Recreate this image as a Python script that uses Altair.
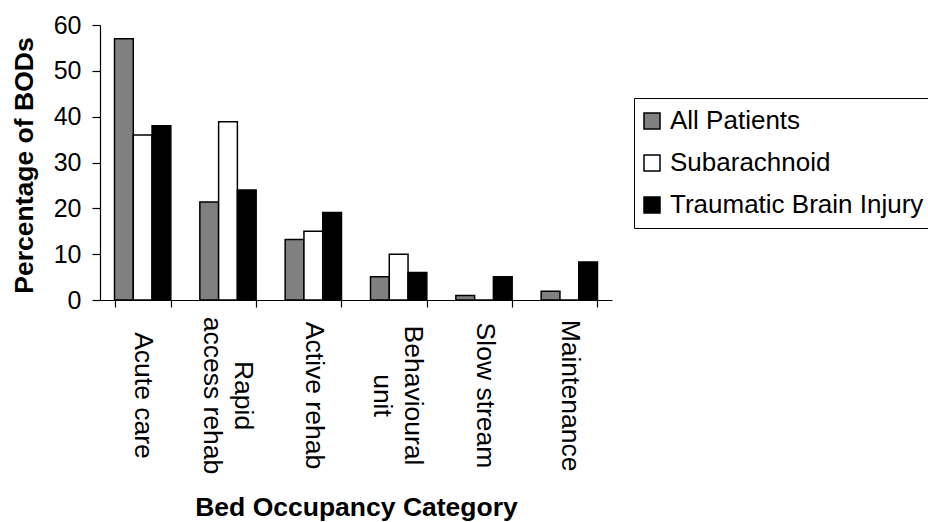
import altair as alt
import pandas as pd

categories = ["Acute care", "Rapid access rehab", "Active rehab",
              "Behavioural unit", "Slow stream", "Maintenance"]
label_lines = [["Acute care"], ["Rapid", "access rehab"], ["Active rehab"],
               ["Behavioural", "unit"], ["Slow stream"], ["Maintenance"]]
series = ["All Patients", "Subarachnoid", "Traumatic Brain Injury"]
all_patients = [57, 21.4, 13.2, 5.1, 1.0, 1.9]
subarachnoid = [36, 38.9, 15, 10, 0, 0]
tbi = [38, 24, 19.1, 6, 5.1, 8.3]
colors = ["#808080", "#ffffff", "#000000"]

rows = []
for s, vals in zip(series, [all_patients, subarachnoid, tbi]):
    for c, v in zip(categories, vals):
        rows.append({"category": c, "series": s, "value": v})
df = pd.DataFrame(rows)

# multi-line label expression
expr = "datum.label"
for c, lines in reversed(list(zip(categories, label_lines))):
    arr = "[" + ",".join("'" + l + "'" for l in lines) + "]"
    expr = f"datum.label == '{c}' ? {arr} : ({expr})"

multi = [c for c, lines in zip(categories, label_lines) if len(lines) > 1]
multi_test = " || ".join(f"datum.label == '{c}'" for c in multi)

FONT = "Liberation Sans"

chart = alt.Chart(df).mark_bar(stroke="black", strokeWidth=1.5).encode(
    x=alt.X("category:N", sort=categories,
            scale=alt.Scale(paddingInner=0.34, paddingOuter=0.17),
            axis=alt.Axis(title="Bed Occupancy Category", labelAngle=90,
                          labelAlign="center", labelBaseline="middle",
                          labelPadding=88, labelExpr=expr, labelFontSize=26.5,
                          labelLineHeight=31,
                          labelOffset={"condition": {"test": multi_test, "value": 14},
                                       "value": 0},
                          labelOverlap=False, labelBound=False, labelFlush=False,
                          labelLimit=0,
                          tickBand="extent", tickSize=7, tickColor="black",
                          tickWidth=1.2, domainColor="black", domainWidth=1.2,
                          titleFontSize=26.5, titleFontWeight="bold",
                          titleX=256, titleY=215, titleBaseline="alphabetic",
                          titleAlign="center", labelColor="black",
                          titleColor="black")),
    xOffset=alt.XOffset("series:N", sort=series,
                        scale=alt.Scale(paddingInner=0, paddingOuter=0)),
    y=alt.Y("value:Q", scale=alt.Scale(domain=[0, 60], nice=False),
            axis=alt.Axis(title="Percentage of BODs", values=[0, 10, 20, 30, 40, 50, 60],
                          grid=False, tickSize=8, tickColor="black", tickWidth=1.2,
                          domainColor="black", domainWidth=1.2,
                          labelFontSize=25, labelPadding=11, labelColor="black",
                          titleFontSize=26.5, titleFontWeight="bold", titleColor="black",
                          titleAngle=-90, titleX=-76, titleY=140,
                          titleAlign="center", titleBaseline="middle")),
    color=alt.Color("series:N", sort=series,
                    scale=alt.Scale(domain=series, range=colors),
                    legend=alt.Legend(title=None, orient="none", legendX=534, legendY=73,
                                      strokeColor="black", fillColor="white",
                                      padding=10, symbolType="square", symbolSize=256,
                                      symbolStrokeColor="black", symbolStrokeWidth=1.5,
                                      symbolOffset=-5,
                                      labelFontSize=26, labelOffset=5, rowPadding=16,
                                      labelLimit=0, labelColor="black")),
).properties(
    width=512, height=275,
    padding={"left": 100, "top": 25, "right": 316, "bottom": 222},
    autosize=alt.AutoSizeParams(type="none"),
).configure(font=FONT).configure_view(stroke=None)

chart.save("out.html", embed_options={"renderer": "svg", "actions": False})
